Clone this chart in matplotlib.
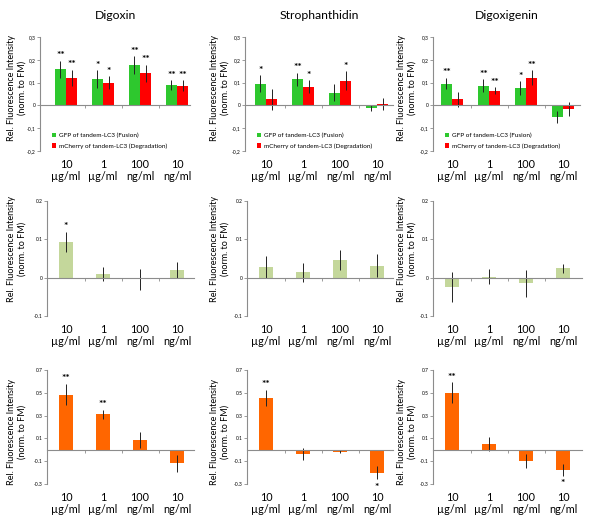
import numpy as np
import matplotlib.pyplot as plt

plt.rcParams['font.family'] = ['Lato', 'DejaVu Sans']

drugs = ['Digoxin', 'Strophanthidin', 'Digoxigenin']
doses = ['10\nµg/ml', '1\nµg/ml', '100\nng/ml', '10\nng/ml']

# row 1: tandem-LC3 channels
gfp = [[0.159, 0.116, 0.176, 0.089],
       [0.096, 0.115, 0.055, -0.010],
       [0.096, 0.087, 0.076, -0.052]]
gfp_err = [[0.037, 0.038, 0.039, 0.022],
           [0.036, 0.028, 0.037, 0.013],
           [0.026, 0.027, 0.030, 0.027]]
gfp_stars = [['**', '*', '**', '**'],
             ['*', '**', '', ''],
             ['**', '**', '*', '']]
mch = [[0.121, 0.100, 0.140, 0.087],
       [0.026, 0.082, 0.109, 0.006],
       [0.026, 0.064, 0.122, -0.016]]
mch_err = [[0.035, 0.028, 0.039, 0.023],
           [0.044, 0.029, 0.041, 0.025],
           [0.032, 0.015, 0.032, 0.030]]
mch_stars = [['**', '*', '**', '**'],
             ['', '*', '*', ''],
             ['', '**', '**', '']]

# row 2
mid = [[0.093, 0.010, -0.004, 0.020],
       [0.027, 0.014, 0.045, 0.031],
       [-0.024, 0.003, -0.015, 0.024]]
mid_err = [[0.027, 0.018, 0.027, 0.020],
           [0.029, 0.024, 0.026, 0.030],
           [0.040, 0.020, 0.036, 0.011]]
mid_stars = [['*', '', '', ''], ['', '', '', ''], ['', '', '', '']]

# row 3
low = [[0.485, 0.312, 0.082, -0.120],
       [0.458, -0.035, -0.015, -0.200],
       [0.500, 0.050, -0.102, -0.178]]
low_err = [[0.096, 0.040, 0.070, 0.073],
           [0.070, 0.055, 0.010, 0.058],
           [0.093, 0.064, 0.061, 0.050]]
low_stars = [['**', '**', '', ''], ['**', '', '', '*'], ['**', '', '', '*']]

row_ticks = [[0.3, 0.2, 0.1, 0, -0.1, -0.2],
             [0.2, 0.1, 0, -0.1],
             [0.7, 0.5, 0.3, 0.1, -0.1, -0.3]]
row_ticklabels = [['0,3', '0,2', '0,1', '0', '-0,1', '-0,2'],
                  ['0.2', '0.1', '0', '-0.1'],
                  ['0.7', '0.5', '0.3', '0.1', '-0.1', '-0.3']]

W, H = 600, 528
fig = plt.figure(figsize=(W / 100, H / 100), dpi=100)

# pixel layout
rows_px = [(37, 151), (201, 316), (370, 484)]
cols_px = [[(40, 190), (245, 393), (433, 580)],
           [(47, 194), (247, 393), (433, 582)],
           [(47, 194), (247, 393), (433, 582)]]
centers_px = [66, 266, 452]
step = 37.0
ylab_px = [27, 230, 417]
ylab_y = [0.55, 0.58, 0.46]

green = '#2ec82e'
red = '#ff0000'
olive = '#c4d79b'
orange = '#ff6600'
grey = '#8c8c8c'
ylabel = 'Rel. Fluorescence Intensity\n(norm. to FM)'


def star(ax, x, v, e, s, rng):
    if not s:
        return
    off = rng * 0.005
    if v >= 0:
        ax.text(x, v + e + off, s, ha='center', va='bottom', fontsize=7.5,
                fontweight='bold')
    else:
        ax.text(x, v - e - off * 6, s, ha='center', va='top', fontsize=7.5,
                fontweight='bold')


x = np.arange(4)
ylims = [(-0.2, 0.3), (-0.1, 0.2), (-0.3, 0.7)]

for r in range(3):
    top, bot = rows_px[r]
    for c in range(3):
        l, rr = cols_px[r][c]
        ax = fig.add_axes([l / W, 1 - bot / H, (rr - l) / W, (bot - top) / H])
        ax.set_xlim((l - centers_px[c]) / step, (rr - centers_px[c]) / step)
        ax.set_ylim(*ylims[r])
        rng = ylims[r][1] - ylims[r][0]
        ekw = dict(elinewidth=0.7, ecolor='#222222', capsize=0)

        if r == 0:
            w = 0.3
            ax.bar(x - w / 2, gfp[c], w, yerr=gfp_err[c], color=green,
                   error_kw=ekw, label='GFP of tandem-LC3 (Fusion)')
            ax.bar(x + w / 2, mch[c], w, yerr=mch_err[c], color=red,
                   error_kw=ekw, label='mCherry of tandem-LC3 (Degradation)')
            for i in range(4):
                star(ax, x[i] - w / 2, gfp[c][i], gfp_err[c][i], gfp_stars[c][i], rng)
                star(ax, x[i] + w / 2, mch[c][i], mch_err[c][i], mch_stars[c][i], rng)
            ax.legend(loc='lower left', bbox_to_anchor=(0.05, -0.02), frameon=False,
                      fontsize=4.6, handlelength=0.7, handleheight=0.7,
                      handletextpad=0.4, labelspacing=0.8, borderpad=0.2)
            ax.set_title(drugs[c], fontsize=8.8, pad=13)
        else:
            vals = mid if r == 1 else low
            errs = mid_err if r == 1 else low_err
            stars = mid_stars if r == 1 else low_stars
            col = olive if r == 1 else orange
            ax.bar(x, vals[c], 0.4, yerr=errs[c], color=col, error_kw=ekw)
            for i in range(4):
                star(ax, x[i], vals[c][i], errs[c][i], stars[c][i], rng)

        for s in ['top', 'right']:
            ax.spines[s].set_visible(False)
        ax.spines['left'].set_color(grey)
        ax.spines['left'].set_linewidth(0.8)
        ax.spines['bottom'].set_position(('data', 0))
        ax.spines['bottom'].set_color(grey)
        ax.spines['bottom'].set_linewidth(0.8)
        ax.set_xticks([])
        ax.set_xticks([0.5, 1.5, 2.5], minor=True)
        ax.tick_params(axis='x', which='minor', length=2.5, color=grey, width=0.6)
        ax.set_yticks(row_ticks[r])
        ax.set_yticklabels(row_ticklabels[r])
        ax.tick_params(axis='y', labelsize=3.6, length=2, width=0.6, color=grey, pad=1)

        sec = ax.secondary_xaxis('bottom')
        sec.set_xticks(x)
        sec.set_xticklabels(doses, fontsize=7.8, linespacing=1.05)
        sec.tick_params(length=0, pad=6)
        sec.spines['bottom'].set_visible(False)

        ax.set_ylabel(ylabel, fontsize=6.5, linespacing=1.35)
        ax.yaxis.set_label_coords((ylab_px[c] - l) / (rr - l), ylab_y[r])

fig.savefig('out.png', dpi=100)
